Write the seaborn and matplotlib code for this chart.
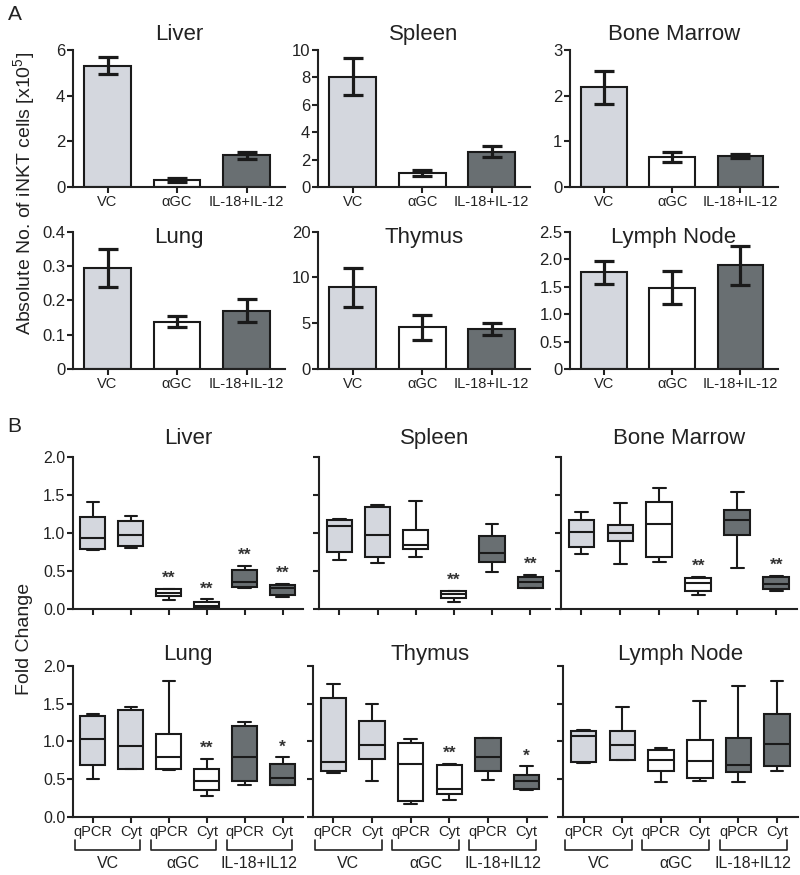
import numpy as np
import pandas as pd
import matplotlib
matplotlib.use("Agg")
import matplotlib.pyplot as plt
import matplotlib.transforms as mtransforms
import seaborn as sns

sns.set_style("ticks")
plt.rcParams["font.family"] = ["Liberation Sans", "DejaVu Sans"]
plt.rcParams["mathtext.default"] = "regular"

# ---------------- panel A : absolute numbers (mean, sem), x10^5 ----------------
groups_a = ["VC", "αGC", "IL-18+IL-12"]
organs = ["Liver", "Spleen", "Bone Marrow", "Lung", "Thymus", "Lymph Node"]

liver_mean = [5.31, 0.30, 1.39]
liver_sem = [0.36, 0.09, 0.16]
spleen_mean = [8.05, 1.07, 2.59]
spleen_sem = [1.35, 0.22, 0.40]
bm_mean = [2.18, 0.67, 0.68]
bm_sem = [0.36, 0.11, 0.05]
lung_mean = [0.294, 0.138, 0.170]
lung_sem = [0.054, 0.015, 0.034]
thymus_mean = [8.9, 4.55, 4.38]
thymus_sem = [2.12, 1.34, 0.68]
ln_mean = [1.76, 1.48, 1.89]
ln_sem = [0.205, 0.305, 0.355]

yticks_a = [[0, 2, 4, 6], [0, 2, 4, 6, 8, 10], [0, 1, 2, 3],
            [0, 0.1, 0.2, 0.3, 0.4], [0, 5, 10, 20], [0, 0.5, 1.0, 1.5, 2.0, 2.5]]
yticklabels_a = [["0", "2", "4", "6"], ["0", "2", "4", "6", "8", "10"], ["0", "1", "2", "3"],
                 ["0", "0.1", "0.2", "0.3", "0.4"], ["0", "5", "10", "20"],
                 ["0", "0.5", "1.0", "1.5", "2.0", "2.5"]]

# ---------------- panel B : fold change box plots (min, q1, median, q3, max) ----------------
box_labels = ["qPCR", "Cyt", "qPCR", "Cyt", "qPCR", "Cyt"]
groups_b = ["VC", "αGC", "IL-18+IL12"]

liver_box = [[0.78, 0.79, 0.93, 1.21, 1.41], [0.81, 0.83, 0.98, 1.16, 1.23],
             [0.12, 0.18, 0.22, 0.27, 0.27], [0.00, 0.02, 0.05, 0.09, 0.13],
             [0.28, 0.29, 0.36, 0.52, 0.57], [0.16, 0.19, 0.28, 0.32, 0.33]]
spleen_box = [[0.645, 0.754, 1.096, 1.165, 1.19], [0.605, 0.68, 0.97, 1.346, 1.37],
              [0.69, 0.785, 0.846, 1.04, 1.425], [0.096, 0.149, 0.20, 0.235, 0.24],
              [0.495, 0.62, 0.745, 0.96, 1.12], [0.28, 0.285, 0.36, 0.43, 0.45]]
bm_box = [[0.73, 0.82, 1.01, 1.17, 1.27], [0.60, 0.89, 1.00, 1.10, 1.40],
          [0.62, 0.69, 1.12, 1.41, 1.59], [0.19, 0.24, 0.34, 0.41, 0.42],
          [0.54, 0.98, 1.17, 1.30, 1.54], [0.24, 0.27, 0.33, 0.42, 0.44]]
lung_box = [[0.50, 0.69, 1.03, 1.34, 1.36], [0.63, 0.64, 0.94, 1.42, 1.46],
            [0.62, 0.63, 0.79, 1.10, 1.80], [0.28, 0.36, 0.48, 0.63, 0.77],
            [0.43, 0.48, 0.80, 1.20, 1.26], [0.42, 0.43, 0.52, 0.70, 0.79]]
thymus_box = [[0.58, 0.61, 0.73, 1.57, 1.76], [0.48, 0.77, 0.95, 1.27, 1.50],
              [0.17, 0.21, 0.70, 0.98, 1.03], [0.22, 0.30, 0.37, 0.69, 0.70],
              [0.49, 0.61, 0.80, 1.04, 1.05], [0.36, 0.37, 0.48, 0.56, 0.67]]
ln_box = [[0.71, 0.73, 1.07, 1.14, 1.15], [0.75, 0.75, 0.95, 1.14, 1.45],
          [0.46, 0.61, 0.76, 0.89, 0.92], [0.47, 0.52, 0.74, 1.02, 1.53],
          [0.46, 0.60, 0.69, 1.05, 1.74], [0.61, 0.68, 0.96, 1.37, 1.80]]

liver_sig = ["", "", "**", "**", "**", "**"]
spleen_sig = ["", "", "", "**", "", "**"]
bm_sig = ["", "", "", "**", "", "**"]
lung_sig = ["", "", "", "**", "", "*"]
thymus_sig = ["", "", "", "**", "", "*"]
ln_sig = ["", "", "", "", "", ""]

LIGHT = "#d3d6df"
DARK = "#687073"
bar_colors = [LIGHT, "white", DARK]
box_colors = [LIGHT, LIGHT, "white", "white", DARK, DARK]

means = [liver_mean, spleen_mean, bm_mean, lung_mean, thymus_mean, ln_mean]
sems = [liver_sem, spleen_sem, bm_sem, lung_sem, thymus_sem, ln_sem]
boxes = [liver_box, spleen_box, bm_box, lung_box, thymus_box, ln_box]
sigs = [liver_sig, spleen_sig, bm_sig, lung_sig, thymus_sig, ln_sig]

LW = 1.5

fig = plt.figure(figsize=(8, 8.75), dpi=100)


def style_axis(ax):
    sns.despine(ax=ax)
    for s in ("left", "bottom"):
        ax.spines[s].set_linewidth(LW)
        ax.spines[s].set_color("#222222")
    ax.tick_params(width=LW, length=4, color="#222222", pad=1.5)


# ---------- panel A ----------
a_rects = [[0.091, 0.786, 0.265, 0.157], [0.3975, 0.786, 0.265, 0.157], [0.7125, 0.786, 0.26, 0.157],
           [0.091, 0.5783, 0.265, 0.157], [0.3975, 0.5783, 0.265, 0.157], [0.7125, 0.5783, 0.26, 0.157]]

for i, organ in enumerate(organs):
    ax = fig.add_axes(a_rects[i])
    df = pd.DataFrame({"group": groups_a, "value": means[i]})
    if organ == "Thymus":
        # segmented axis as in the original (upper segment compressed)
        ax.set_yscale("function", functions=(lambda v: np.interp(v, [0, 12, 20], [0, 12, 15]),
                                             lambda s: np.interp(s, [0, 12, 15], [0, 12, 20])))
    sns.barplot(data=df, x="group", y="value", hue="group", palette=bar_colors,
                width=0.67, edgecolor="#1a1a1a", linewidth=LW, legend=False, ax=ax, zorder=2)
    ax.errorbar(np.arange(len(groups_a)), means[i], yerr=sems[i], fmt="none",
                ecolor="#1a1a1a", elinewidth=2.3, capsize=7, capthick=2.3, zorder=3)
    ax.set_xlim(-0.5, 2.55)
    ax.set_ylim(0, yticks_a[i][-1])
    ax.set_yticks(yticks_a[i])
    ax.set_yticklabels(yticklabels_a[i], fontsize=12, color="#222222")
    ax.set_xticks(range(len(groups_a)))
    ax.set_xticklabels(groups_a, fontsize=10.5, color="#222222")
    ax.set_xlabel("")
    ax.set_ylabel("")
    style_axis(ax)
    if i < 3:
        ax.set_title(organ, fontsize=16, pad=7, color="#222222")
    else:
        ax.text(0.5, 0.918, organ, transform=ax.transAxes, ha="center", va="baseline",
                fontsize=16, color="#222222")

fig.text(0.03, 0.7794, "Absolute No. of iNKT cells [x10$^{5}$]", rotation=90,
         ha="center", va="center", fontsize=14, color="#222222")
fig.text(0.018, 0.983, "A", fontsize=15, ha="center", va="center", color="#222222")

# ---------- panel B ----------
b_rects = [[0.091, 0.3036, 0.2875, 0.1744], [0.399, 0.3036, 0.289, 0.1744], [0.701, 0.3036, 0.295, 0.1744],
           [0.091, 0.0663, 0.2875, 0.1726], [0.391, 0.0663, 0.293, 0.1726], [0.704, 0.0663, 0.293, 0.1726]]

for i, organ in enumerate(organs):
    ax = fig.add_axes(b_rects[i])
    rows = []
    for j, five in enumerate(boxes[i]):
        for v in five:
            rows.append({"box": j, "value": v})
    df = pd.DataFrame(rows)
    sns.boxplot(data=df, x="box", y="value", hue="box", palette=box_colors, dodge=False,
                whis=(0, 100), width=0.66, linecolor="#1a1a1a", linewidth=LW,
                legend=False, ax=ax)
    for j, lab in enumerate(sigs[i]):
        if lab:
            top = max(boxes[i][j])
            ax.text(j, top + 0.04, lab, ha="center", va="bottom", fontsize=12.5,
                    fontweight="bold", color="#333333")
    ax.set_xlim(-0.53, 5.53)
    ax.set_ylim(0, 2.0)
    ax.set_yticks([0, 0.5, 1.0, 1.5, 2.0])
    ax.set_xticks(range(6))
    ax.set_xlabel("")
    ax.set_ylabel("")
    if i % 3 == 0:
        ax.set_yticklabels(["0.0", "0.5", "1.0", "1.5", "2.0"], fontsize=11.5, color="#222222")
    else:
        ax.set_yticklabels([])
    style_axis(ax)
    if i < 3:
        ax.set_xticklabels([])
        ax.set_title(organ, fontsize=16, pad=9.5, color="#222222")
    else:
        ax.set_xticklabels(box_labels, fontsize=10.5, color="#222222")
        ax.set_title(organ, fontsize=16, pad=4.3, color="#222222")
        trans = mtransforms.blended_transform_factory(ax.transData, ax.transAxes)
        for g, name in enumerate(groups_b):
            x0, x1 = 2 * g - 0.48, 2 * g + 1.25
            ax.plot([x0, x0, x1, x1], [-0.152, -0.219, -0.219, -0.152], transform=trans,
                    color="#222222", lw=1.2, clip_on=False)
            ax.text((x0 + x1) / 2, -0.305, name, transform=trans, ha="center", va="center",
                    fontsize=11.5, color="#222222")

fig.text(0.031, 0.2697, "Fold Change", rotation=90, ha="center", va="center",
         fontsize=14, color="#222222")
fig.text(0.018, 0.512, "B", fontsize=15, ha="center", va="center", color="#222222")

fig.savefig("out.png", dpi=100)
